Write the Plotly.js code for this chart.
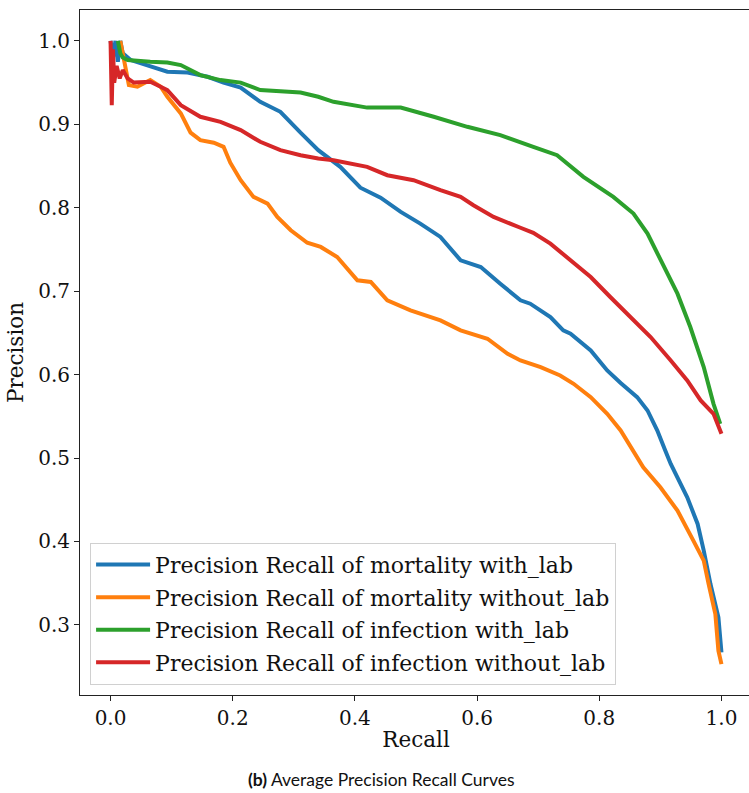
<!DOCTYPE html>
<html>
<head>
<meta charset="utf-8">
<script src="https://cdn.plot.ly/plotly-3.0.1.min.js"></script>
<style>
html,body{margin:0;padding:0;overflow:hidden;background:#fff;}
#chart{width:752px;height:793px;}
</style>
</head>
<body>
<div id="chart"></div>
<script>
// Series names
const seriesNames = [
  "Precision Recall of mortality with_lab",
  "Precision Recall of mortality without_lab",
  "Precision Recall of infection with_lab",
  "Precision Recall of infection without_lab"
];
const seriesColors = ["#1f77b4", "#ff7f0e", "#2ca02c", "#d62728"];

// Mortality with_lab (blue)
const mortLabRecall = [0.0, 0.004, 0.008, 0.012, 0.016, 0.02, 0.033, 0.065, 0.093, 0.126, 0.159, 0.185, 0.213, 0.245, 0.278, 0.311, 0.34, 0.376, 0.409, 0.442, 0.475, 0.507, 0.54, 0.573, 0.606, 0.638, 0.671, 0.687, 0.72, 0.741, 0.753, 0.786, 0.813, 0.835, 0.862, 0.879, 0.895, 0.908, 0.917, 0.944, 0.961, 0.971, 0.982, 0.995, 1.0];
const mortLabPrec   = [1.0, 0.98, 1.0, 0.975, 1.0, 0.985, 0.977, 0.969, 0.963, 0.962, 0.957, 0.95, 0.944, 0.927, 0.915, 0.89, 0.869, 0.849, 0.824, 0.812, 0.795, 0.781, 0.765, 0.737, 0.729, 0.709, 0.689, 0.685, 0.669, 0.653, 0.649, 0.629, 0.605, 0.59, 0.573, 0.557, 0.533, 0.509, 0.493, 0.453, 0.421, 0.389, 0.349, 0.309, 0.267];

// Mortality without_lab (orange)
const mortNoLabRecall = [0.016, 0.02, 0.025, 0.03, 0.044, 0.065, 0.082, 0.093, 0.115, 0.131, 0.147, 0.169, 0.185, 0.196, 0.213, 0.234, 0.257, 0.273, 0.295, 0.322, 0.344, 0.371, 0.404, 0.426, 0.453, 0.491, 0.54, 0.573, 0.617, 0.65, 0.671, 0.704, 0.736, 0.758, 0.786, 0.802, 0.813, 0.835, 0.851, 0.872, 0.9, 0.928, 0.954, 0.971, 0.979, 0.99, 0.995, 1.0];
const mortNoLabPrec   = [1.0, 0.985, 0.965, 0.947, 0.945, 0.953, 0.945, 0.933, 0.913, 0.89, 0.881, 0.878, 0.873, 0.854, 0.833, 0.813, 0.805, 0.789, 0.773, 0.758, 0.753, 0.741, 0.713, 0.711, 0.689, 0.677, 0.665, 0.653, 0.643, 0.625, 0.617, 0.609, 0.599, 0.589, 0.573, 0.561, 0.553, 0.533, 0.513, 0.489, 0.465, 0.437, 0.401, 0.377, 0.349, 0.313, 0.269, 0.253];

// Infection with_lab (green)
const infLabRecall = [0.012, 0.016, 0.02, 0.028, 0.065, 0.093, 0.115, 0.147, 0.18, 0.213, 0.245, 0.278, 0.311, 0.34, 0.365, 0.42, 0.475, 0.529, 0.584, 0.638, 0.671, 0.692, 0.731, 0.774, 0.823, 0.856, 0.879, 0.9, 0.928, 0.949, 0.971, 0.987, 0.998];
const infLabPrec   = [1.0, 0.985, 0.98, 0.977, 0.975, 0.974, 0.971, 0.959, 0.953, 0.95, 0.941, 0.939, 0.938, 0.933, 0.927, 0.92, 0.92, 0.909, 0.897, 0.887, 0.878, 0.873, 0.863, 0.837, 0.813, 0.793, 0.769, 0.737, 0.697, 0.657, 0.609, 0.565, 0.541];

// Infection without_lab (red)
const infNoLabRecall = [0.0, 0.002, 0.004, 0.006, 0.01, 0.015, 0.02, 0.028, 0.038, 0.065, 0.082, 0.093, 0.115, 0.147, 0.18, 0.213, 0.245, 0.278, 0.311, 0.34, 0.365, 0.42, 0.453, 0.496, 0.54, 0.573, 0.594, 0.627, 0.671, 0.692, 0.72, 0.753, 0.786, 0.818, 0.851, 0.884, 0.917, 0.944, 0.966, 0.987, 1.0];
const infNoLabPrec   = [1.0, 0.923, 0.99, 0.95, 0.97, 0.955, 0.965, 0.955, 0.95, 0.951, 0.945, 0.941, 0.923, 0.909, 0.903, 0.893, 0.879, 0.869, 0.863, 0.859, 0.857, 0.849, 0.839, 0.833, 0.821, 0.813, 0.803, 0.789, 0.776, 0.77, 0.757, 0.737, 0.717, 0.693, 0.669, 0.645, 0.617, 0.593, 0.569, 0.553, 0.529];

const xTickVals = [0.0, 0.2, 0.4, 0.6, 0.8, 1.0];
const xTickText = ["0.0", "0.2", "0.4", "0.6", "0.8", "1.0"];
const yTickVals = [0.3, 0.4, 0.5, 0.6, 0.7, 0.8, 0.9, 1.0];
const yTickText = ["0.3", "0.4", "0.5", "0.6", "0.7", "0.8", "0.9", "1.0"];

const xs = [mortLabRecall, mortNoLabRecall, infLabRecall, infNoLabRecall];
const ys = [mortLabPrec, mortNoLabPrec, infLabPrec, infNoLabPrec];

const serif = "DejaVu Serif, serif";
const traces = xs.map((x, i) => ({
  type: "scatter",
  mode: "lines",
  x: x,
  y: ys[i],
  name: seriesNames[i],
  legendgroup: "g" + i,
  line: {color: seriesColors[i], width: 4, shape: "linear"}
}));

const axisCommon = {
  showgrid: false,
  zeroline: false,
  showline: true,
  mirror: true,
  linecolor: "#222",
  linewidth: 1,
  ticks: "outside",
  ticklen: 5,
  tickwidth: 1,
  tickcolor: "#222",
  tickfont: {family: serif, size: 20, color: "#111"}
};

const layout = {
  width: 752,
  height: 793,
  margin: {l: 80, r: 0, t: 10, b: 98},
  paper_bgcolor: "#fff",
  plot_bgcolor: "#fff",
  showlegend: true,
  xaxis: Object.assign({}, axisCommon, {
    range: [-0.05, 1.05],
    tickvals: xTickVals,
    ticktext: xTickText,
    title: {text: "Recall", font: {family: serif, size: 21.5, color: "#111"}, standoff: 2}
  }),
  yaxis: Object.assign({}, axisCommon, {
    range: [0.216, 1.037],
    tickvals: yTickVals,
    ticktext: yTickText,
    title: {text: "Precision", font: {family: serif, size: 21.5, color: "#111"}, standoff: 8}
  }),
  legend: {
    x: 0.015,
    y: 0.015,
    xanchor: "left",
    yanchor: "bottom",
    bgcolor: "rgba(255,255,255,0.8)",
    bordercolor: "#d0d0d0",
    borderwidth: 1,
    tracegroupgap: 1,
    itemwidth: 54,
    font: {family: serif, size: 22, color: "#111"}
  },
  annotations: [{
    text: "<b>(b)</b> Average Precision Recall Curves",
    xref: "paper", yref: "paper",
    x: 0.448, y: -0.124,
    xanchor: "center", yanchor: "middle",
    showarrow: false,
    font: {family: "Lato, Open Sans, sans-serif", size: 17.5, color: "#111"}
  }]
};

Plotly.newPlot("chart", traces, layout, {displayModeBar: false, staticPlot: true});
</script>
</body>
</html>
